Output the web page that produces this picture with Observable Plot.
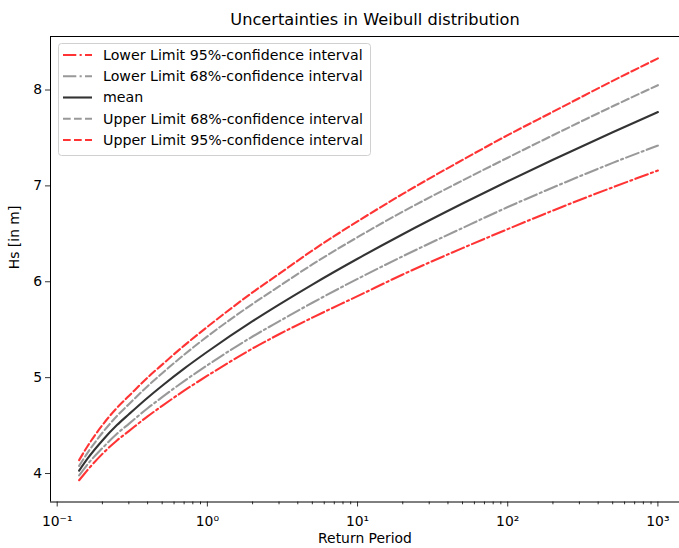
<!DOCTYPE html>
<html>
<head>
<meta charset="utf-8">
<script src="https://cdn.jsdelivr.net/npm/d3@7"></script>
<script src="https://cdn.jsdelivr.net/npm/@observablehq/plot@0.6"></script>
<style>
  html, body { margin: 0; padding: 0; background: #fff; }
  #wrap { position: relative; width: 679px; height: 548px; overflow: hidden; font-family: "DejaVu Sans", sans-serif; }
  #title { position: absolute; top: 10px; left: 50px; width: 650px; text-align: center; font-size: 16.2px; color: #000; line-height: 20px; }
  #legend { position: absolute; left: 0; top: 0; pointer-events: none; }
  #chart svg { display: block; }
</style>
</head>
<body>
<div id="wrap">
  <div id="chart"></div>
  <div id="title">Uncertainties in Weibull distribution</div>
  <svg id="legend" width="679" height="548"></svg>
</div>
<script>
// ---- data ----
const returnPeriod = [0.14, 0.16, 0.2, 0.25, 0.3, 0.4, 0.5, 0.7, 1, 2, 3, 5, 10, 20, 50, 100, 200, 500, 1000];
const lower95 = [3.930, 4.040, 4.205, 4.345, 4.443, 4.596, 4.706, 4.864, 5.020, 5.304, 5.452, 5.626, 5.850, 6.076, 6.351, 6.549, 6.743, 6.985, 7.160];
const lower68 = [3.980, 4.100, 4.265, 4.415, 4.518, 4.681, 4.796, 4.964, 5.130, 5.429, 5.587, 5.781, 6.030, 6.266, 6.561, 6.779, 6.983, 7.240, 7.420];
const mean    = [4.030, 4.160, 4.345, 4.505, 4.618, 4.791, 4.916, 5.094, 5.270, 5.589, 5.762, 5.971, 6.240, 6.496, 6.816, 7.049, 7.273, 7.560, 7.770];
const upper68 = [4.080, 4.220, 4.425, 4.600, 4.723, 4.911, 5.046, 5.239, 5.430, 5.769, 5.952, 6.181, 6.465, 6.731, 7.056, 7.294, 7.528, 7.830, 8.050];
const upper95 = [4.140, 4.290, 4.505, 4.685, 4.808, 5.001, 5.136, 5.334, 5.530, 5.889, 6.082, 6.326, 6.630, 6.916, 7.271, 7.529, 7.773, 8.095, 8.330];

const seriesNames = [
  "Lower Limit 95%-confidence interval",
  "Lower Limit 68%-confidence interval",
  "mean",
  "Upper Limit 68%-confidence interval",
  "Upper Limit 95%-confidence interval"
];
const seriesValues = [lower95, lower68, mean, upper68, upper95];

const xMajorTicks = [0.1, 1, 10, 100, 1000];
const xTickLabels = ["10\u207B\u00B9", "10\u2070", "10\u00B9", "10\u00B2", "10\u00B3"];
const yTicks = [4, 5, 6, 7, 8];

// ---- styles ----
const dashDot = "13.3,3.3,2.1,3.3";
const dashed = "7.7,3.3";
const styles = [
  {stroke: "red",  dash: dashDot},
  {stroke: "gray", dash: dashDot},
  {stroke: "black", dash: null},
  {stroke: "gray", dash: dashed},
  {stroke: "red",  dash: dashed}
];
const lineOpacity = 0.8;
const lineWidth = 2.1;
const fs = 13.9;

// ---- build table ----
const rows = [];
seriesNames.forEach((name, i) => {
  returnPeriod.forEach((t, j) => rows.push({series: name, idx: i, T: t, Hs: seriesValues[i][j]}));
});

const xDomain = [Math.pow(10, -1.0446), Math.pow(10, 3.1438)];
const yDomain = [3.703, 8.558];

const minorTicks = [];
for (let e = -1; e <= 3; e++) for (let k = 2; k <= 9; k++) {
  const v = k * Math.pow(10, e);
  if (v >= xDomain[0] && v <= xDomain[1]) minorTicks.push(v);
}

const marks = [];
seriesNames.forEach((name, i) => {
  marks.push(Plot.line(rows.filter(r => r.idx === i), {
    x: "T", y: "Hs",
    stroke: styles[i].stroke,
    strokeOpacity: lineOpacity,
    strokeWidth: lineWidth,
    strokeDasharray: styles[i].dash,
    curve: "monotone-x"
  }));
});

const chart = Plot.plot({
  width: 679,
  height: 548,
  marginLeft: 50,
  marginRight: 0,
  marginTop: 36,
  marginBottom: 46.5,
  style: {fontFamily: "DejaVu Sans, sans-serif", fontSize: fs + "px", color: "#000", background: "#fff"},
  x: {type: "log", domain: xDomain},
  y: {domain: yDomain},
  marks: [
    ...marks,
    Plot.ruleX([xDomain[0]], {stroke: "#000", strokeWidth: 1}),
    Plot.ruleY([yDomain[0]], {stroke: "#000", strokeWidth: 1}),
    Plot.ruleY([yDomain[1]], {stroke: "#000", strokeWidth: 1}),
    Plot.axisX({ticks: minorTicks, tickSize: 2.8, tickFormat: () => "", label: null, strokeWidth: 0.8}),
    Plot.axisX({ticks: xMajorTicks, tickSize: 5, tickPadding: 9.5, strokeWidth: 0.8,
      tickFormat: d => xTickLabels[xMajorTicks.indexOf(d)], fontSize: fs, label: null}),
    Plot.axisY({ticks: yTicks, tickSize: 5, tickPadding: 3.5, strokeWidth: 0.8, fontSize: fs,
      tickFormat: d3.format("d"), label: null}),
    Plot.text(["Return Period"], {frameAnchor: "bottom", dy: 41, fontSize: fs}),
    Plot.text(["Hs [in m]"], {frameAnchor: "left", dx: -36, rotate: -90, fontSize: fs})
  ]
});
document.getElementById("chart").appendChild(chart);

// ---- legend ----
const lg = d3.select("#legend");
lg.append("rect").attr("x", 58.5).attr("y", 43.5).attr("width", 312).attr("height", 112)
  .attr("rx", 3).attr("fill", "white").attr("fill-opacity", 0.8).attr("stroke", "#d0d0d0");
seriesNames.forEach((name, i) => {
  const y = 55 + i * 21.25;
  lg.append("line").attr("x1", 63).attr("x2", 92).attr("y1", y).attr("y2", y)
    .attr("stroke", styles[i].stroke).attr("stroke-opacity", lineOpacity).attr("stroke-width", lineWidth)
    .attr("stroke-dasharray", styles[i].dash);
  lg.append("text").attr("x", 103).attr("y", y).attr("dy", "0.35em")
    .attr("font-family", "DejaVu Sans, sans-serif").attr("font-size", 14.2).text(name);
});
</script>
</body>
</html>
